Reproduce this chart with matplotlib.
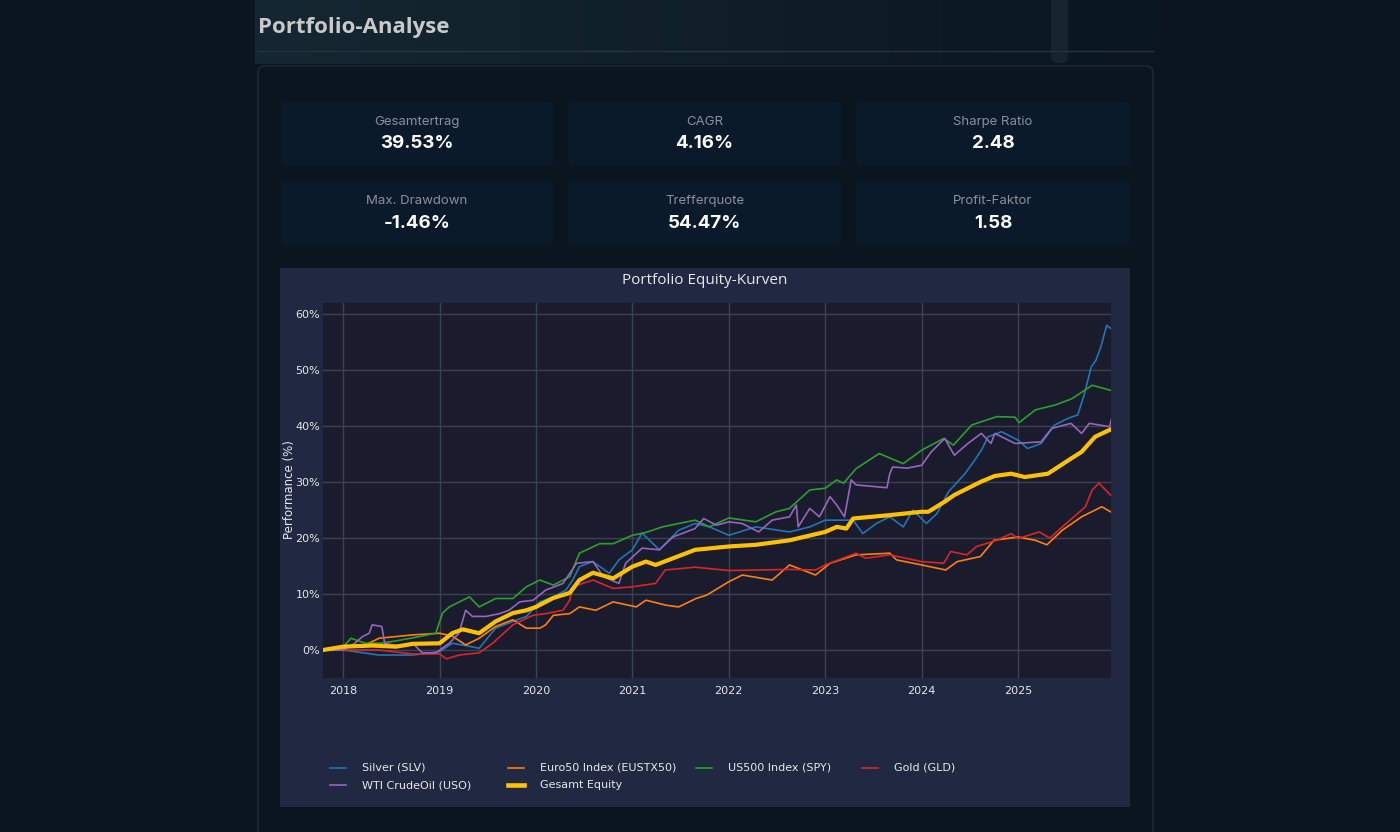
import matplotlib
matplotlib.use("Agg")
import matplotlib.pyplot as plt
import numpy as np
from matplotlib.patches import FancyBboxPatch, Rectangle
from matplotlib.lines import Line2D

W, H = 1400, 832

# KPI cards
kpi_labels = ["Gesamtertrag", "CAGR", "Sharpe Ratio",
              "Max. Drawdown", "Trefferquote", "Profit-Faktor"]
kpi_values = ["39.53%", "4.16%", "2.48", "-1.46%", "54.47%", "1.58"]

# Equity curves (decimal year, performance in %)
slv_x = [2017.79, 2018.0, 2018.37, 2018.72, 2019.0, 2019.13, 2019.27, 2019.41, 2019.58, 2019.76,
         2019.9, 2020.04, 2020.18, 2020.31, 2020.38, 2020.45, 2020.59, 2020.76, 2020.86, 2021.0,
         2021.1, 2021.28, 2021.48, 2021.65, 2021.8, 2022.0, 2022.28, 2022.63, 2022.84, 2023.0,
         2023.29, 2023.39, 2023.53, 2023.67, 2023.81, 2023.91, 2024.05, 2024.16, 2024.28, 2024.45,
         2024.55, 2024.62, 2024.69, 2024.83, 2025.0, 2025.1, 2025.24, 2025.38, 2025.52, 2025.62,
         2025.69, 2025.76, 2025.81, 2025.86, 2025.92, 2025.96]
slv_y = [0.0, 0.0, -0.9, -0.9, -0.3, 1.2, 0.8, 0.3, 3.9, 5.1,
         6.0, 8.6, 9.5, 10.7, 12.5, 14.9, 15.8, 13.7, 16.1, 17.9,
         20.9, 17.9, 21.4, 22.6, 22.0, 20.5, 22.0, 21.1, 22.0, 23.2,
         23.2, 20.8, 22.6, 23.8, 22.0, 25.0, 22.6, 24.4, 28.3, 31.5,
         33.9, 35.7, 38.1, 39.0, 37.5, 36.0, 36.9, 40.2, 41.4, 42.0,
         45.8, 50.6, 51.8, 54.2, 58.0, 57.5]

eu50_x = [2017.79, 2018.0, 2018.23, 2018.37, 2018.72, 2019.0, 2019.13, 2019.27, 2019.41, 2019.58,
          2019.76, 2019.9, 2020.04, 2020.1, 2020.18, 2020.35, 2020.45, 2020.62, 2020.8, 2021.04,
          2021.14, 2021.35, 2021.48, 2021.66, 2021.77, 2022.0, 2022.14, 2022.45, 2022.63, 2022.9,
          2023.05, 2023.32, 2023.67, 2023.74, 2024.0, 2024.25, 2024.37, 2024.61, 2024.75, 2025.0,
          2025.18, 2025.3, 2025.46, 2025.66, 2025.87, 2025.96]
eu50_y = [0.0, 0.4, 0.9, 2.1, 2.7, 3.0, 2.5, 0.9, 2.1, 4.2,
          5.4, 3.9, 3.9, 4.5, 6.2, 6.5, 7.7, 7.1, 8.6, 7.7,
          8.9, 8.0, 7.7, 9.2, 9.8, 12.2, 13.4, 12.5, 15.2, 13.4,
          15.5, 17.0, 17.3, 16.1, 15.2, 14.3, 15.8, 16.7, 19.6, 20.2,
          19.6, 18.8, 21.4, 23.8, 25.6, 24.7]

spy_x = [2017.79, 2018.0, 2018.08, 2018.23, 2018.37, 2018.54, 2018.79, 2018.96, 2019.03, 2019.1,
         2019.17, 2019.31, 2019.41, 2019.58, 2019.76, 2019.9, 2020.04, 2020.18, 2020.35, 2020.45,
         2020.66, 2020.8, 2021.0, 2021.14, 2021.31, 2021.65, 2021.8, 2022.0, 2022.28, 2022.49,
         2022.63, 2022.84, 2023.0, 2023.12, 2023.19, 2023.32, 2023.56, 2023.81, 2024.0, 2024.23,
         2024.33, 2024.52, 2024.78, 2024.97, 2025.01, 2025.18, 2025.39, 2025.56, 2025.77, 2025.96]
spy_y = [0.0, 0.6, 2.1, 1.2, 1.2, 1.6, 2.4, 3.0, 6.6, 7.7,
         8.3, 9.5, 7.7, 9.2, 9.2, 11.3, 12.5, 11.6, 13.1, 17.3,
         19.0, 19.0, 20.5, 21.0, 22.0, 23.2, 22.0, 23.6, 22.9, 24.7,
         25.3, 28.6, 28.9, 30.4, 29.8, 32.4, 35.1, 33.3, 35.7, 37.8,
         36.6, 40.2, 41.7, 41.6, 40.6, 42.9, 43.8, 44.9, 47.3, 46.4]

gld_x = [2017.79, 2018.0, 2018.37, 2018.72, 2019.0, 2019.07, 2019.2, 2019.41, 2019.55, 2019.76,
         2019.97, 2020.1, 2020.28, 2020.35, 2020.38, 2020.59, 2020.8, 2021.0, 2021.24, 2021.34,
         2021.65, 2022.0, 2022.63, 2022.9, 2023.0, 2023.32, 2023.42, 2023.67, 2024.0, 2024.23,
         2024.3, 2024.47, 2024.57, 2024.78, 2024.93, 2025.0, 2025.22, 2025.33, 2025.5, 2025.7,
         2025.77, 2025.84, 2025.96]
gld_y = [0.0, 0.0, 0.0, -0.7, -0.7, -1.6, -0.9, -0.5, 1.2, 4.5,
         6.2, 6.5, 7.1, 8.9, 11.3, 12.5, 11.0, 11.3, 11.9, 14.3,
         14.8, 14.2, 14.4, 14.3, 15.2, 17.3, 16.4, 17.0, 15.8, 15.5,
         17.6, 17.0, 18.5, 19.6, 20.8, 19.9, 21.1, 20.0, 22.6, 25.6,
         28.6, 29.8, 27.7]

uso_x = [2017.79, 2018.0, 2018.12, 2018.2, 2018.27, 2018.3, 2018.4, 2018.43, 2018.55, 2018.72,
         2018.82, 2018.96, 2019.1, 2019.2, 2019.27, 2019.34, 2019.48, 2019.62, 2019.72, 2019.83,
         2019.97, 2020.1, 2020.28, 2020.42, 2020.59, 2020.7, 2020.86, 2020.93, 2021.1, 2021.28,
         2021.42, 2021.65, 2021.74, 2021.87, 2022.0, 2022.14, 2022.31, 2022.45, 2022.63, 2022.7,
         2022.72, 2022.84, 2022.94, 2023.05, 2023.12, 2023.2, 2023.27, 2023.32, 2023.64, 2023.67,
         2023.7, 2023.85, 2024.0, 2024.1, 2024.24, 2024.34, 2024.48, 2024.62, 2024.72, 2024.76,
         2024.97, 2025.24, 2025.35, 2025.55, 2025.66, 2025.74, 2025.95, 2025.97]
uso_y = [0.0, 0.0, 1.2, 2.4, 3.0, 4.5, 4.2, 1.2, 0.8, 1.2,
         -0.5, -0.5, 1.2, 3.0, 7.1, 6.0, 6.0, 6.5, 7.1, 8.6,
         8.9, 10.7, 11.9, 15.5, 15.8, 13.1, 11.9, 15.5, 18.2, 17.9,
         20.2, 21.7, 23.5, 22.3, 22.9, 22.6, 21.1, 23.2, 23.8, 25.9,
         22.0, 25.3, 23.8, 27.4, 25.9, 23.8, 30.4, 29.5, 29.0, 31.5,
         32.7, 32.5, 33.0, 35.4, 37.8, 34.8, 36.9, 38.7, 36.9, 38.7,
         36.9, 37.2, 39.6, 40.5, 38.7, 40.5, 39.9, 41.3]

total_x = [2017.79, 2018.0, 2018.3, 2018.55, 2018.72, 2019.0, 2019.13, 2019.24, 2019.41, 2019.58,
           2019.76, 2019.9, 2020.0, 2020.18, 2020.35, 2020.45, 2020.59, 2020.8, 2021.0, 2021.14,
           2021.24, 2021.65, 2022.0, 2022.28, 2022.63, 2023.0, 2023.12, 2023.22, 2023.29, 2023.67,
           2024.0, 2024.07, 2024.24, 2024.34, 2024.62, 2024.76, 2024.93, 2025.07, 2025.31, 2025.55,
           2025.66, 2025.8, 2025.96]
total_y = [0.0, 0.6, 0.8, 0.6, 1.1, 1.2, 3.0, 3.7, 3.0, 5.1,
           6.6, 7.1, 7.7, 9.3, 10.2, 12.5, 13.8, 12.8, 14.9, 15.8,
           15.2, 17.9, 18.5, 18.8, 19.6, 21.1, 22.0, 21.7, 23.5, 24.1,
           24.7, 24.7, 26.5, 27.7, 30.1, 31.1, 31.5, 30.9, 31.5, 34.2,
           35.4, 38.1, 39.4]

series = [
    ("Silver (SLV)", slv_x, slv_y, "#1f77b4", 1.2),
    ("Euro50 Index (EUSTX50)", eu50_x, eu50_y, "#ff7f0e", 1.2),
    ("US500 Index (SPY)", spy_x, spy_y, "#2ca02c", 1.2),
    ("Gold (GLD)", gld_x, gld_y, "#d62728", 1.2),
    ("WTI CrudeOil (USO)", uso_x, uso_y, "#9467bd", 1.2),
    ("Gesamt Equity", total_x, total_y, "#ffc107", 3.0),
]
year_ticks = list(range(2018, 2026))
pct_ticks = [0, 10, 20, 30, 40, 50, 60]


def px_box(x0, y0, x1, y1):
    return [x0 / W, 1 - y1 / H, (x1 - x0) / W, (y1 - y0) / H]


fig = plt.figure(figsize=(W / 100, H / 100), dpi=100, facecolor="#0a1520")

# page background drawn in pixel coordinates
bg = fig.add_axes([0, 0, 1, 1])
bg.set_xlim(0, W)
bg.set_ylim(H, 0)
bg.axis("off")

grad = np.linspace(0, 1, 256)
c0 = np.array([0x15, 0x27, 0x32]) / 255
c1 = np.array([0x0a, 0x16, 0x21]) / 255
img = (c0[None, :] * (1 - grad[:, None]) + c1[None, :] * grad[:, None])[None, :, :]
bg.imshow(img, extent=(255, 1155, 64, 0), aspect="auto", zorder=0,
          interpolation="bilinear")
bg.add_patch(FancyBboxPatch((1051, -5), 17, 68, boxstyle="round,pad=0,rounding_size=6",
                            fc="#15242f", ec="none", zorder=1))
bg.text(258, 28, "Portfolio-Analyse", fontsize=16, fontweight="bold", family="Open Sans",
        color="#c9c9c9", va="center", ha="left")
bg.plot([258, 1153], [50.5, 50.5], color="#2c3338", lw=1)

bg.add_patch(FancyBboxPatch((258, 66), 895, 800, boxstyle="round,pad=0,rounding_size=7",
                            fc="#0a1520", ec="#1f2c37", lw=1))

card_x = [(281, 553), (568, 841), (856, 1130)]
card_y = [(102, 166), (181, 245)]
for i, (lab, val) in enumerate(zip(kpi_labels, kpi_values)):
    (x0, x1), (y0, y1) = card_x[i % 3], card_y[i // 3]
    bg.add_patch(FancyBboxPatch((x0, y0), x1 - x0, y1 - y0,
                                boxstyle="round,pad=0,rounding_size=5",
                                fc="#0b1a2b", ec="none"))
    xc = (x0 + x1) / 2
    bg.text(xc, y0 + 20, lab, fontsize=9.5, family="Inter", color="#8b9099",
            ha="center", va="center")
    bg.text(xc, y0 + 42, val, fontsize=13.5, family="Inter", fontweight="bold",
            color="white", ha="center", va="center")

bg.add_patch(Rectangle((280, 268), 850, 539, fc="#212841", ec="none"))
bg.text(705, 281, "Portfolio Equity-Kurven", fontsize=11, family="Open Sans",
        color="#e8e8e8", ha="center", va="center")
bg.text(289, 490, "Performance (%)", fontsize=8.5, family="DejaVu Sans",
        color="#e8e8e8", ha="center", va="center", rotation=90)

# chart
ax = fig.add_axes(px_box(323, 303, 1111, 678))
ax.set_facecolor("#1b1b2e")
for name, xs, ys, col, lw in series:
    ax.plot(xs, ys, color=col, lw=lw, solid_joinstyle="round")
ax.set_xlim(min(slv_x), max(slv_x) + 0.005)
ax.set_ylim(-5.0, 62.0)
ax.set_xticks(year_ticks)
ax.set_xticklabels([str(y) for y in year_ticks])
ax.set_yticks(pct_ticks)
ax.set_yticklabels([f"{v}%" for v in pct_ticks])
ax.grid(True, color="#3c4350", lw=1)
ax.set_axisbelow(True)
for s in ax.spines.values():
    s.set_visible(False)
ax.tick_params(length=0, colors="#e8e8e8", labelsize=8)
ax.tick_params(axis="x", pad=6)
ax.tick_params(axis="y", pad=2)

# legend, plotly-style horizontal layout
leg_cols = [330, 508, 696, 862]
leg_rows = [768, 785]
for i, (name, xs, ys, col, lw) in enumerate(series):
    lx, ly = leg_cols[i % 4], leg_rows[i // 4]
    bg.add_line(Line2D([lx, lx + 16], [ly, ly], color=col, lw=lw + 0.3 if lw > 2 else 1.2))
    bg.text(lx + 32, ly, name, fontsize=8, family="DejaVu Sans", color="#e8e8e8",
            ha="left", va="center")

fig.savefig("out.png", dpi=100, facecolor=fig.get_facecolor())
